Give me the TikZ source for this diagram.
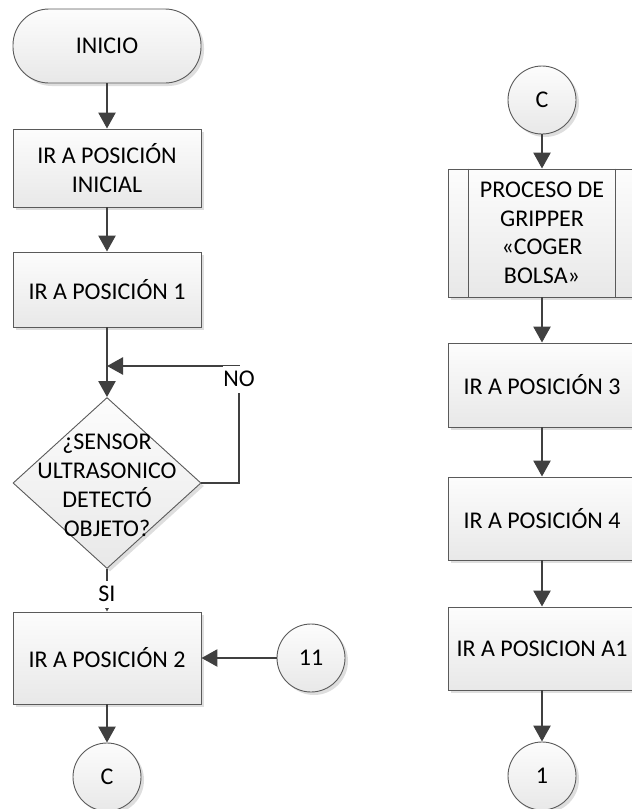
\documentclass[tikz,border=0pt]{standalone}
\usepackage{fontspec}
\setmainfont{Carlito}
\usetikzlibrary{arrows.meta,shapes.geometric,shadows,calc}

\definecolor{edgegray}{HTML}{404040}
\definecolor{outlinegray}{HTML}{5A5A5A}

\tikzset{
  base/.style={draw=outlinegray, line width=0.9pt, top color=black!1, bottom color=black!9,
    align=center, inner sep=0pt, font=\fontsize{24}{28.5}\selectfont,
    drop shadow={shadow xshift=3pt, shadow yshift=-3pt, fill=black!13, opacity=1}},
  procbox/.style={base, rectangle, minimum width=188pt},
  termbox/.style={base, rectangle, rounded corners=36pt, minimum width=188pt, minimum height=74pt},
  decision/.style={base, diamond, minimum width=188pt, minimum height=171pt},
  conn/.style={base, circle, minimum size=68pt},
  txt/.style={align=center, inner sep=0pt, font=\fontsize{24}{29}\selectfont},
  lbl/.style={fill=white, inner sep=0pt, minimum width=32pt, minimum height=27pt, font=\fontsize{24}{28}\selectfont},
  flow/.style={line width=2.6pt, draw=edgegray, -{Triangle[length=16pt,width=17pt]}},
  innerline/.style={draw=outlinegray, line width=0.9pt}
}

\begin{document}
\begin{tikzpicture}[x=1pt, y=-1pt]
  \useasboundingbox (0,0) rectangle (632,809);
  \clip (0,0) rectangle (632,809);

  % left column
  \node[termbox] (inicio) at (107,46) {INICIO};
  \node[procbox, minimum height=78pt] (b0) at (107,168) {IR A POSICIÓN\\INICIAL};
  \node[procbox, minimum height=75pt] (b1) at (107,289.5) {IR A POSICIÓN 1};
  \node[decision] (d) at (107,483) {};
  \node[txt] (dtext) at (107,485) {¿SENSOR\\ULTRASONICO\\DETECTÓ\\OBJETO?};
  \node[procbox, minimum height=92pt] (b2) at (107,658) {IR A POSICIÓN 2};
  \node[conn] (cC) at (107,777) {C};
  \node[conn] (c11) at (311,658) {11};

  % right column
  \node[conn] (cC2) at (542,100) {C};
  \node[procbox, minimum height=128pt] (pp) at (542,233) {PROCESO DE\\GRIPPER\\«COGER\\BOLSA»};
  \draw[innerline] ($(pp.north west)+(21,0)$) -- ($(pp.south west)+(21,0)$);
  \draw[innerline] ($(pp.north east)+(-21,0)$) -- ($(pp.south east)+(-21,0)$);
  \node[procbox, minimum height=84pt] (b3) at (542,385) {IR A POSICIÓN 3};
  \node[procbox, minimum height=83pt] (b4) at (542,518.5) {IR A POSICIÓN 4};
  \node[procbox, minimum height=83pt] (bA1) at (542,648.5) {IR A POSICION A1};
  \node[conn] (c1) at (542,776) {1};

  % connectors, left column
  \draw[flow] (inicio) -- (b0);
  \draw[flow] (b0) -- (b1);
  \draw[flow] (b1) -- (d);
  \coordinate (nocorner) at (239,366);
  \coordinate (nojoin) at (107,366);
  \draw[flow] (d.east) -| (nocorner) -- (nojoin);
  \node[lbl] (nolab) at (239,379) {NO};
  \draw[flow] (d.south) -- (b2.north);
  \node[lbl] (silab) at (107,594) {SI};
  \draw[flow] (c11) -- (b2);
  \draw[flow] (b2) -- (cC);

  % connectors, right column
  \draw[flow] (cC2) -- (pp);
  \draw[flow] (pp) -- (b3);
  \draw[flow] (b3) -- (b4);
  \draw[flow] (b4) -- (bA1);
  \draw[flow] (bA1) -- (c1);
\end{tikzpicture}
\end{document}
